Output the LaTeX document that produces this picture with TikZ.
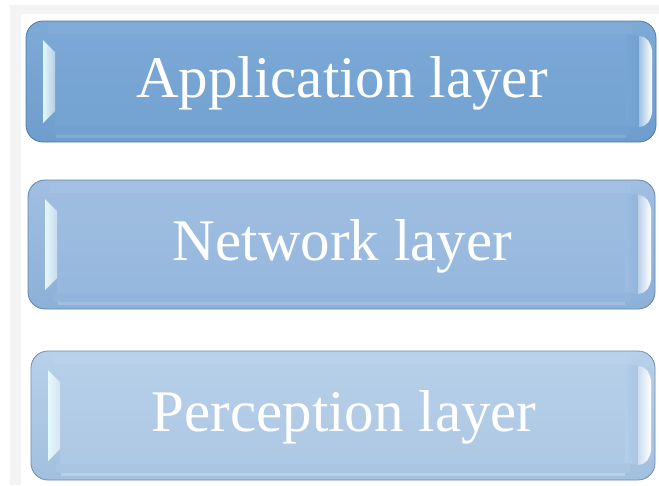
\documentclass[tikz,border=0pt]{standalone}
\usepackage{fontspec}
\setmainfont{Liberation Serif}
\definecolor{appblue}{HTML}{78A6D4}
\definecolor{netblue}{HTML}{9CBCE0}
\definecolor{perblue}{HTML}{B5CEE8}
\definecolor{deepblue}{HTML}{3E72AE}
\definecolor{glint}{HTML}{E4F9FA}
\definecolor{paper}{HTML}{F4F4F4}
\tikzset{
  layertext/.style={text=white,font=\fontsize{59}{60}\selectfont,inner sep=0pt,anchor=center},
}
% Glossy bevelled key: #1 node name, #2..#5 left/top/right/bottom, #6 colour, #7 label
\newcommand\layerkey[7]{%
  % outer body with rim
  \path[rounded corners=17pt,draw=#6!55!deepblue!85!black,line width=0.8pt,
        top color=#6!96!white,bottom color=#6!84!deepblue]
       (#2,#3) rectangle (#4,#5);
  % bottom bevel band
  \fill[#6!90!deepblue,rounded corners=5pt] (#2+24,#5-17) rectangle (#4-24,#5-7);
  \fill[#6!95!white] (#2+30,#5-7) rectangle (#4-30,#5-4);
  % top bevel band
  \fill[#6!93!white] (#2+22,#3+3) rectangle (#4-24,#3+13);
  % flat face
  \fill[top color=#6!98!white,bottom color=#6!94!deepblue]
       (#2+29,#3+13) rectangle (#4-30,#5-17);
  % left glint
  \shade[left color=glint,right color=#6!55!white]
       (#2+17,#3+19) -- (#2+29,#3+31) -- (#2+29,#5-31) -- (#2+17,#5-19) -- cycle;
  % right bevel and glint
  \shade[left color=#6,right color=#6!90!deepblue]
       (#4-30,#3+13) -- (#4-17,#3+15) -- (#4-17,#5-15) -- (#4-30,#5-17) -- cycle;
  \shade[left color=#6!70!white,right color=white]
       (#4-17,#3+15) .. controls (#4-8,#3+16) and (#4-5,#3+22) .. (#4-4,#3+30)
       -- (#4-4,#5-30) .. controls (#4-5,#5-22) and (#4-8,#5-16) .. (#4-17,#5-15) -- cycle;
  \node[layertext] (#1) at ({(#2+#4)/2+1},{(#3+#5)/2+2}) {#7};
}
\begin{document}
\begin{tikzpicture}[x=1pt,y=-1pt]
  \useasboundingbox (0,0) rectangle (659,485);
  \fill[white] (0,0) rectangle (659,485);
  \fill[paper] (10,5) rectangle (659,485);
  \fill[white] (21,14) rectangle (659,485);
  \layerkey{app}{26}{21}{656}{142}{appblue}{Application layer}
  \layerkey{net}{28}{180}{655}{309}{netblue}{Network layer}
  \layerkey{per}{31}{351}{655}{480}{perblue}{Perception layer}
\end{tikzpicture}
\end{document}
